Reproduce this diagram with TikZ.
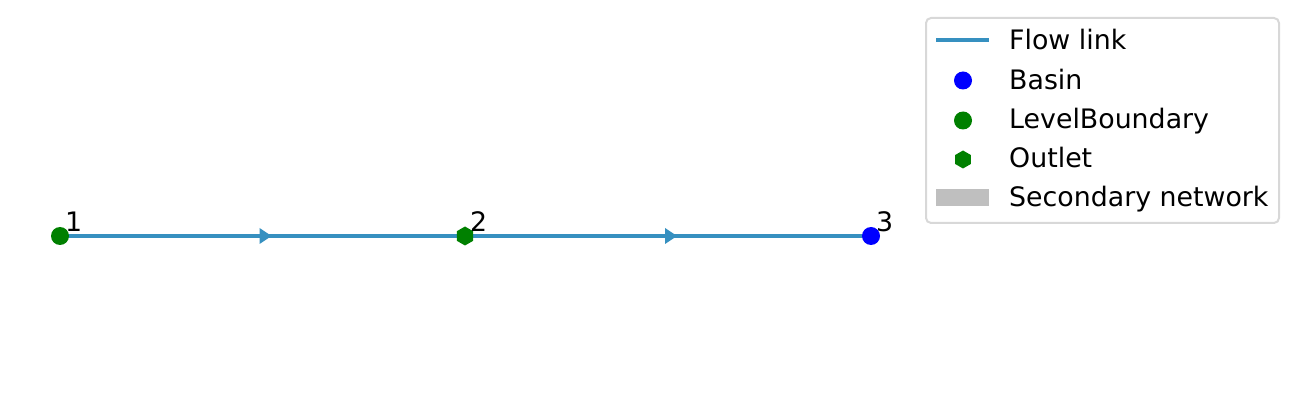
\documentclass[tikz,border=0pt]{standalone}
\usepackage{fontspec}
\setmainfont{DejaVu Sans}
\usetikzlibrary{shapes.geometric,decorations.markings,backgrounds}
\definecolor{flow}{RGB}{54,144,192}
\definecolor{mgreen}{RGB}{0,128,0}
\definecolor{mblue}{RGB}{0,0,255}
\definecolor{legframe}{RGB}{216,216,216}
\definecolor{secgray}{RGB}{191,191,191}
\tikzset{
  basin/.style={circle,fill=mblue,inner sep=0pt,minimum size=18pt},
  levelb/.style={circle,fill=mgreen,inner sep=0pt,minimum size=18pt},
  outlet/.style={regular polygon,regular polygon sides=6,shape border rotate=30,fill=mgreen,inner sep=0pt,minimum size=19pt},
  flowlink/.style={draw=flow,line width=4pt,
    postaction={decorate},
    decoration={markings,mark=at position 0.5 with {\fill[flow] (-3pt,-8pt) -- (9pt,0pt) -- (-3pt,8pt) -- cycle;}}},
  idlabel/.style={anchor=base west,inner sep=0pt,font=\fontsize{26.8}{30}\selectfont},
  legtext/.style={anchor=base west,inner sep=0pt,font=\fontsize{26.8}{30}\selectfont}
}
\begin{document}
\begin{tikzpicture}[x=1pt,y=-1pt]
\useasboundingbox (0,0) rectangle (1298,403);
% graph nodes
\node[levelb] (n1) at (60,236) {};
\node[outlet] (n2) at (465,236) {};
\node[basin] (n3) at (871,236) {};
\begin{scope}[on background layer]
  \draw[flowlink] (n1.center) -- (n2.center);
  \draw[flowlink] (n2.center) -- (n3.center);
\end{scope}
\node[idlabel] (l1) at (65,232) {1};
\node[idlabel] (l2) at (470,232) {2};
\node[idlabel] (l3) at (876,232) {3};
% legend
\draw[legframe,line width=2pt,rounded corners=5pt,fill=white] (926,18) rectangle (1279,223);
\draw[flow,line width=4pt] (936,40) -- (989,40);
\node[basin] (lb) at (963,80.5) {};
\node[levelb] (ll) at (963,120.5) {};
\node[outlet,minimum size=18pt] (lo) at (963,159.5) {};
\fill[secgray] (936,189) rectangle (989,206);
\node[legtext] (t1) at (1009,50) {Flow link};
\node[legtext] (t2) at (1009,89.5) {Basin};
\node[legtext] (t3) at (1009,129) {LevelBoundary};
\node[legtext] (t4) at (1009,168) {Outlet};
\node[legtext] (t5) at (1009,206.5) {Secondary network};
\end{tikzpicture}
\end{document}
